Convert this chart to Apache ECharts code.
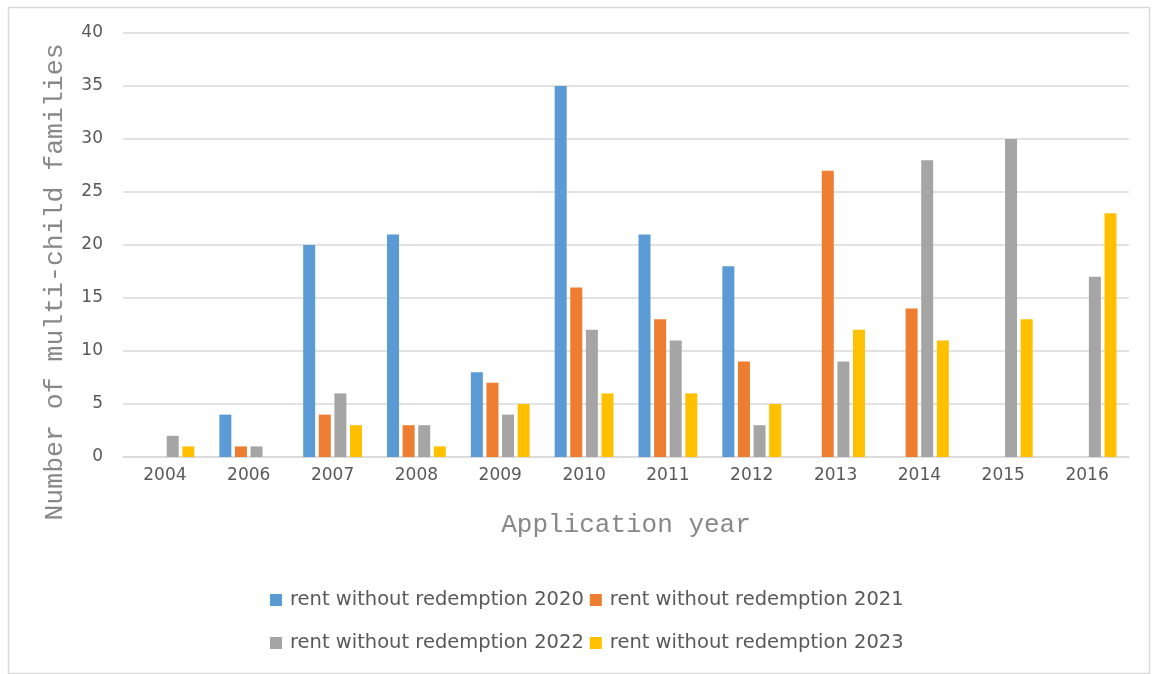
<!DOCTYPE html>
<html>
<head>
<meta charset="utf-8">
<script src="https://cdn.jsdelivr.net/npm/echarts@6/dist/echarts.min.js"></script>
<style>
html,body{margin:0;padding:0;background:#fff;}
#chart{width:1152px;height:674px;}
</style>
</head>
<body>
<div id="chart"></div>
<script>
var categories = ['2004','2006','2007','2008','2009','2010','2011','2012','2013','2014','2015','2016'];
var seriesNames = ['rent without redemption 2020','rent without redemption 2021','rent without redemption 2022','rent without redemption 2023'];
var rent2020 = [null, 4, 20, 21, 8, 35, 21, 18, null, null, null, null];
var rent2021 = [null, 1, 4, 3, 7, 16, 13, 9, 27, 14, null, null];
var rent2022 = [2, 1, 6, 3, 4, 12, 11, 3, 9, 28, 30, 17];
var rent2023 = [1, null, 3, 1, 5, 6, 6, 5, 12, 11, 13, 23];
var yTicks = { min: 0, max: 40, interval: 5 };
var colors = ['#5B9BD5', '#ED7D31', '#A5A5A5', '#FFC000'];
var allValues = [rent2020, rent2021, rent2022, rent2023];

var chart = echarts.init(document.getElementById('chart'));
var font = 'DejaVu Sans';
var series = allValues.map(function (vals, i) {
  return {
    name: seriesNames[i],
    type: 'bar',
    data: vals,
    barWidth: 12,
    barGap: '30%',
    itemStyle: { color: colors[i] }
  };
});
chart.setOption({
  animation: false,
  color: colors,
  grid: { left: 123, right: 23, top: 33, bottom: 217, containLabel: false },
  legend: [
    {
      data: [seriesNames[0], seriesNames[1]],
      left: 265, top: 585,
      itemWidth: 12, itemHeight: 12, itemGap: 6,
      icon: 'rect',
      textStyle: { fontFamily: font, fontSize: 19.5, color: '#595959', padding: [0, 0, 0, 3] }
    },
    {
      data: [seriesNames[2], seriesNames[3]],
      left: 265, top: 628,
      itemWidth: 12, itemHeight: 12, itemGap: 6,
      icon: 'rect',
      textStyle: { fontFamily: font, fontSize: 19.5, color: '#595959', padding: [0, 0, 0, 3] }
    }
  ],
  xAxis: {
    type: 'category',
    data: categories,
    name: 'Application year',
    nameLocation: 'middle',
    nameGap: 55,
    nameTextStyle: { fontFamily: 'Liberation Mono', fontSize: 26, color: '#888888' },
    axisLine: { lineStyle: { color: '#d9d9d9', width: 1.5 } },
    axisTick: { show: false },
    axisLabel: { fontFamily: font, fontSize: 17, color: '#595959', margin: 10 }
  },
  yAxis: {
    type: 'value',
    min: yTicks.min, max: yTicks.max, interval: yTicks.interval,
    axisLine: { show: false },
    axisTick: { show: false },
    splitLine: { lineStyle: { color: '#d9d9d9', width: 1.5 } },
    axisLabel: { fontFamily: font, fontSize: 17, color: '#595959', margin: 20 }
  },
  graphic: [
    {
      type: 'rect', left: 6, top: 5, z: -1,
      shape: { width: 1141, height: 666 },
      style: { fill: 'none', stroke: '#d9d9d9', lineWidth: 1.5 }
    },
    {
      type: 'text', x: 55, y: 282, rotation: Math.PI / 2,
      style: {
        text: 'Number of multi-child families',
        font: '26.5px "Liberation Mono"',
        fill: '#888888',
        align: 'center', verticalAlign: 'middle'
      }
    }
  ],
  series: series
});
</script>
</body>
</html>
